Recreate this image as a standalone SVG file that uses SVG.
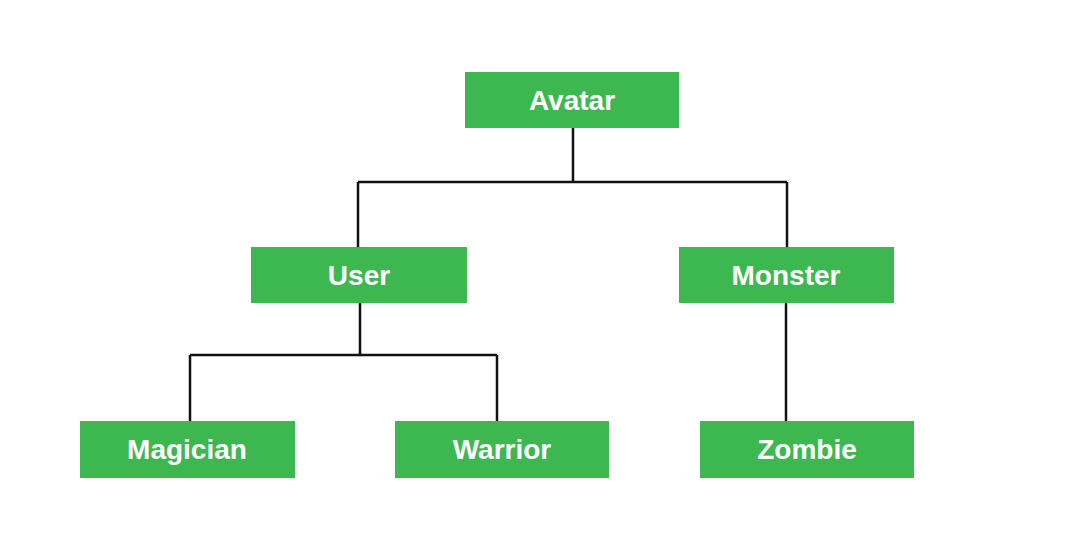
<svg xmlns="http://www.w3.org/2000/svg" width="1085" height="555" viewBox="0 0 1085 555">
<style>
.box{fill:#3db851;}
.lbl{fill:#ffffff;font-family:"Liberation Sans",Arial,sans-serif;font-weight:bold;font-size:28px;text-anchor:middle;}
.conn{fill:none;stroke:#111111;stroke-width:2.5;}
</style>
<rect width="1085" height="555" fill="#ffffff"/>
<g id="connectors">
<path class="conn" d="M573 128V182M358 182H787M358 182V247M787 182V247"/>
<path class="conn" d="M360 303V355M190 355H497M190 355V421M497 355V421"/>
<path class="conn" d="M786 303V421"/>
</g>
<g id="avatar"><rect class="box" x="465" y="72" width="214" height="56"/><text class="lbl" x="572" y="110">Avatar</text></g>
<g id="user"><rect class="box" x="251" y="247" width="216" height="56"/><text class="lbl" x="359" y="285">User</text></g>
<g id="monster"><rect class="box" x="679" y="247" width="215" height="56"/><text class="lbl" x="786" y="285">Monster</text></g>
<g id="magician"><rect class="box" x="80" y="421" width="215" height="57"/><text class="lbl" x="187" y="459">Magician</text></g>
<g id="warrior"><rect class="box" x="395" y="421" width="214" height="57"/><text class="lbl" x="502" y="459">Warrior</text></g>
<g id="zombie"><rect class="box" x="700" y="421" width="214" height="57"/><text class="lbl" x="807" y="459">Zombie</text></g>
</svg>
